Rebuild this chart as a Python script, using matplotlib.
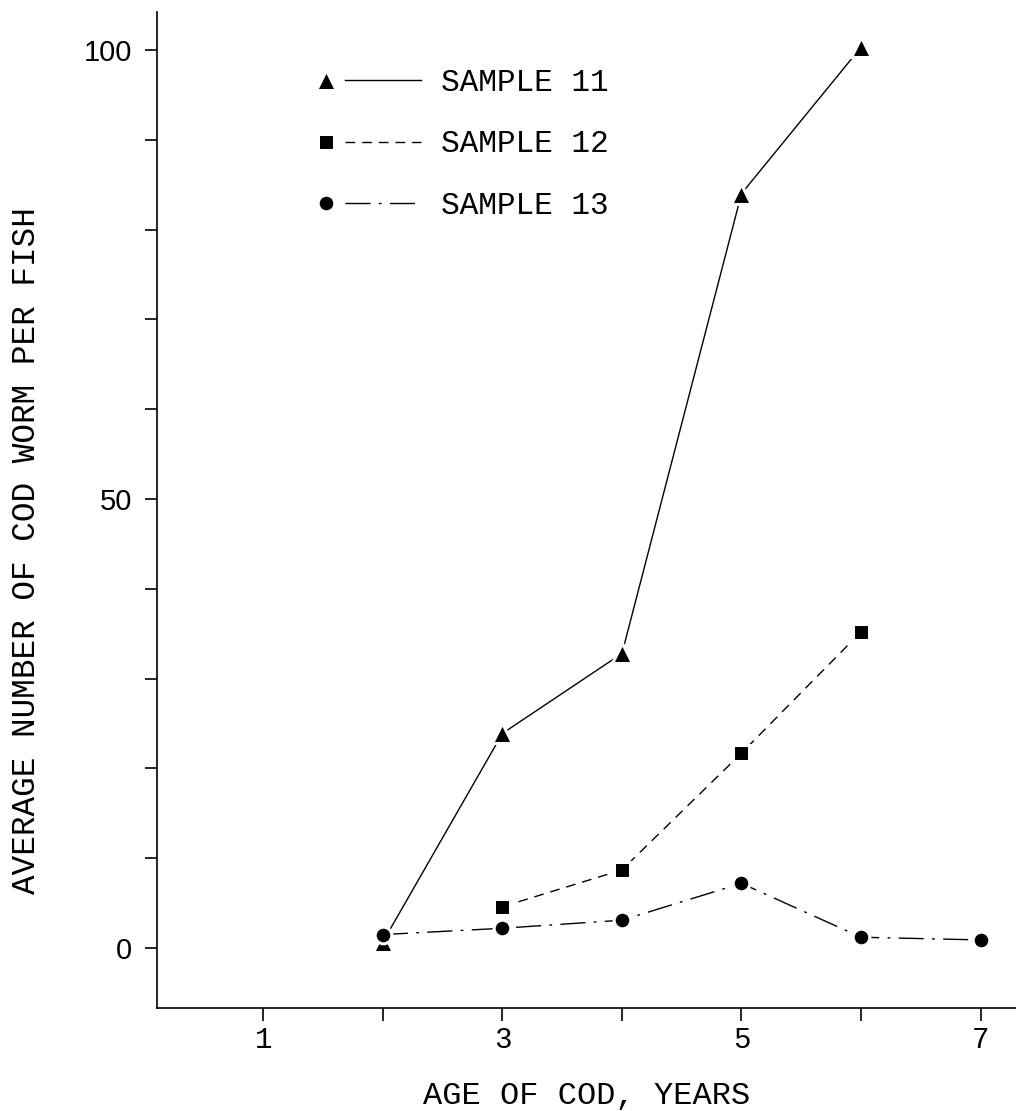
import numpy as np
import matplotlib
matplotlib.use('Agg')
import matplotlib.pyplot as plt
from matplotlib.lines import Line2D
from matplotlib.legend_handler import HandlerLine2D

# ---- data ----
ages_11 = [2, 3, 4, 5, 6]
worms_11 = [0.7, 23.9, 32.8, 84.0, 100.3]
ages_12 = [3, 4, 5, 6]
worms_12 = [4.6, 8.7, 21.7, 35.2]
ages_13 = [2, 3, 4, 5, 6, 7]
worms_13 = [1.5, 2.2, 3.1, 7.2, 1.2, 0.9]
series_labels = ['SAMPLE 11', 'SAMPLE 12', 'SAMPLE 13']
x_ticks = [1, 2, 3, 4, 5, 6, 7]
x_ticklabels = ['1', '', '3', '', '5', '', '7']
y_ticks = list(range(0, 101, 10))
y_ticklabels = ['0', '', '', '', '', '50', '', '', '', '', '100']
x_title = 'AGE OF COD, YEARS'
y_title = 'AVERAGE NUMBER OF COD WORM PER FISH'

MONO = ['Liberation Mono', 'DejaVu Sans Mono']
SANS = ['Liberation Sans', 'DejaVu Sans']


class MarkerFirst(HandlerLine2D):
    """Legend handle: marker at the left, line to the right."""
    def create_artists(self, legend, orig_handle, xdescent, ydescent,
                       width, height, fontsize, trans):
        x0 = -xdescent
        y = (height - ydescent) / 2
        line = Line2D([x0 + 0.26 * width, x0 + width], [y, y])
        self.update_prop(line, orig_handle, legend)
        line.set_marker('None')
        mk = Line2D([x0 + 0.08 * width], [y])
        self.update_prop(mk, orig_handle, legend)
        mk.set_linestyle('None')
        line.set_transform(trans)
        mk.set_transform(trans)
        return [line, mk]


fig = plt.figure(figsize=(10.16, 11.11), dpi=100)
ax = fig.add_axes([0.1545, 0.0927, 0.8455, 0.8963])

common = dict(color='black', lw=1.0, mfc='black', mec='white', mew=2.2)
h11, = ax.plot(ages_11, worms_11, linestyle='-', marker='^', ms=15,
               label=series_labels[0], **common)
h12, = ax.plot(ages_12, worms_12, linestyle=(0, (7, 5)), marker='s', ms=11,
               label=series_labels[1], **common)
h13, = ax.plot(ages_13, worms_13, linestyle=(0, (18, 6, 2, 6)), marker='o',
               ms=12, label=series_labels[2], **common)

ax.set_xlim(0.109, 7.297)
ax.set_ylim(-6.68, 104.2)

ax.spines['top'].set_visible(False)
ax.spines['right'].set_visible(False)
for s in ('left', 'bottom'):
    ax.spines[s].set_linewidth(1.2)

ax.set_xticks(x_ticks)
ax.set_xticklabels(x_ticklabels, fontfamily=MONO, fontsize=21)
ax.set_yticks(y_ticks)
ax.set_yticklabels(y_ticklabels, fontfamily=SANS, fontsize=21)
ax.tick_params(axis='both', direction='out', length=9, width=1.2)
ax.tick_params(axis='y', pad=9)
ax.tick_params(axis='x', pad=4)

ax.set_xlabel(x_title, fontfamily=MONO, fontsize=23)
ax.xaxis.set_label_coords(0.5, -0.073)
ax.set_ylabel(y_title, fontfamily=MONO, fontsize=23.5)
ax.yaxis.set_label_coords(-0.134, 0.459)

leg = fig.legend(handles=[h11, h12, h13], labels=series_labels,
                 loc='upper left', bbox_to_anchor=(0.313, 0.9385),
                 frameon=False, prop={'family': MONO, 'size': 22.4},
                 handlelength=3.3, handletextpad=0.65, labelspacing=1.0,
                 borderpad=0, borderaxespad=0,
                 handler_map={Line2D: MarkerFirst()})

fig.savefig('out.png', dpi=100)
